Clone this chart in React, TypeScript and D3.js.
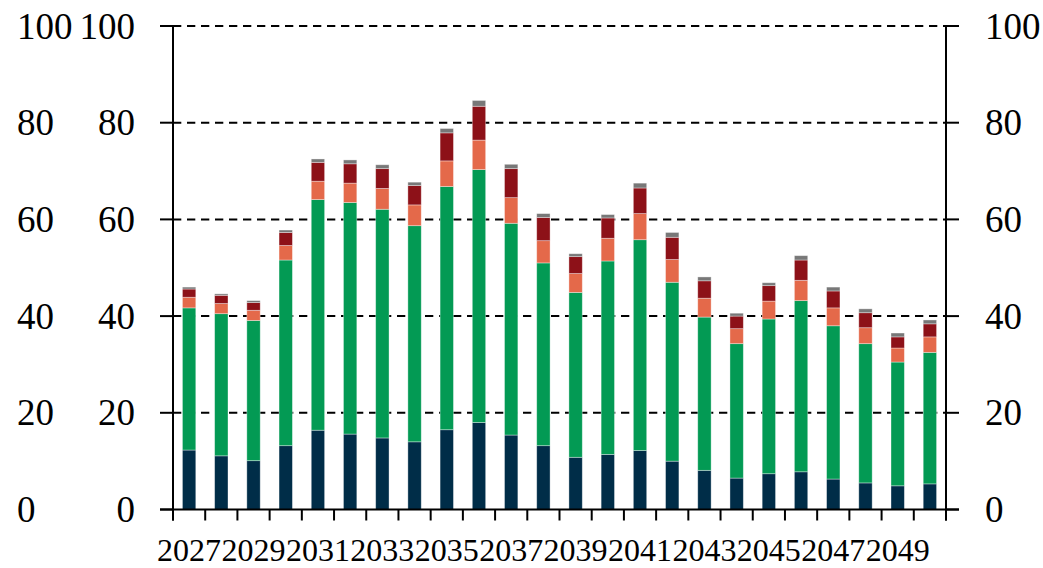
import React from "react";
import * as d3 from "d3";

const years = [2027, 2028, 2029, 2030, 2031, 2032, 2033, 2034, 2035, 2036, 2037, 2038, 2039, 2040, 2041, 2042, 2043, 2044, 2045, 2046, 2047, 2048, 2049, 2050];
const navy = [12.3, 11.1, 10.1, 13.2, 16.4, 15.6, 14.8, 14.0, 16.5, 18.0, 15.4, 13.2, 10.8, 11.4, 12.2, 10.0, 8.1, 6.5, 7.4, 7.8, 6.3, 5.5, 4.9, 5.3];
const green = [29.4, 29.4, 29.0, 38.4, 47.7, 47.9, 47.3, 44.7, 50.3, 52.3, 43.8, 37.8, 34.1, 40.0, 43.6, 37.0, 31.7, 27.8, 32.0, 35.4, 31.7, 28.8, 25.6, 27.2];
const orange = [2.2, 2.1, 2.1, 3.0, 3.8, 4.0, 4.3, 4.3, 5.3, 6.1, 5.3, 4.6, 3.9, 4.7, 5.4, 4.7, 3.9, 3.1, 3.7, 4.2, 3.7, 3.3, 2.9, 3.2];
const red = [1.7, 1.7, 1.6, 2.7, 3.9, 4.0, 4.1, 4.0, 5.8, 7.0, 6.0, 4.8, 3.5, 4.2, 5.3, 4.6, 3.6, 2.6, 3.2, 4.2, 3.5, 3.1, 2.3, 2.7];
const gray = [0.4, 0.3, 0.4, 0.5, 0.7, 0.8, 0.8, 0.7, 0.9, 1.2, 0.9, 0.8, 0.6, 0.7, 1.0, 1.0, 0.8, 0.6, 0.6, 0.9, 0.8, 0.8, 0.8, 0.8];
const yTicks = [0, 20, 40, 60, 80, 100];
const xLabelYears = [2027, 2029, 2031, 2033, 2035, 2037, 2039, 2041, 2043, 2045, 2047, 2049];

const seriesKeys = ["navy", "green", "orange", "red", "gray"];
const seriesColors = ["#002D48", "#039A54", "#E4694A", "#8D1118", "#787878"];

export default function App() {
  const W = 1043, H = 568;
  const left = 173, right = 946, top = 26, bottom = 509.5;
  const rows = years.map((yr, i) => ({
    year: yr, navy: navy[i], green: green[i], orange: orange[i], red: red[i], gray: gray[i],
  }));
  const stacked = d3.stack<any>().keys(seriesKeys)(rows);
  const x = d3.scaleBand<number>().domain(years).range([left, right]).paddingInner(0.585).paddingOuter(0.2925);
  const y = d3.scaleLinear().domain([0, 100]).range([bottom, top]);
  const step = x.step();
  const boundaries = d3.range(years.length + 1).map((i) => left + i * step);
  const yFont = 37;
  const xFont = 32;
  const font = "'Liberation Serif', 'Times New Roman', serif";

  return (
    <svg width={W} height={H} style={{ position: "absolute", left: 0, top: 0, display: "block", background: "#fff" }}>
      {/* gridlines */}
      {yTicks.filter((t) => t > 0).map((t) => (
        <line key={"g" + t} x1={left} x2={right} y1={y(t)} y2={y(t)} stroke="#000" strokeWidth={2} strokeDasharray="8.3,5.7" />
      ))}
      {/* bars */}
      {stacked.map((s, si) => (
        <g key={s.key} fill={seriesColors[si]}>
          {s.map((d, i) => (
            <rect
              key={i}
              x={x(years[i])}
              width={x.bandwidth()}
              y={y(d[1])}
              height={Math.max(0, y(d[0]) - y(d[1]))}
              stroke="#ffffff"
              strokeOpacity={0.45}
              strokeWidth={0.8}
            />
          ))}
        </g>
      ))}
      {/* axes */}
      <line x1={left - 13} x2={right + 13} y1={y(0)} y2={y(0)} stroke="#000" strokeWidth={2.2} />
      <line x1={left} x2={left} y1={top} y2={y(0) + 11} stroke="#000" strokeWidth={2} />
      <line x1={right} x2={right} y1={top} y2={y(0) + 11} stroke="#000" strokeWidth={2} />
      {yTicks.map((t) => (
        <g key={"t" + t}>
          <line x1={left - 13} x2={left} y1={y(t)} y2={y(t)} stroke="#000" strokeWidth={2} />
          <line x1={right} x2={right + 13} y1={y(t)} y2={y(t)} stroke="#000" strokeWidth={2} />
        </g>
      ))}
      {boundaries.map((bx, i) => (
        <line key={"xb" + i} x1={bx} x2={bx} y1={y(0)} y2={y(0) + 11} stroke="#000" strokeWidth={2} />
      ))}
      {/* y labels */}
      {yTicks.map((t) => (
        <g key={"l" + t} fontFamily={font} fontSize={yFont} fill="#000">
          <text x={17} y={y(t) + 12.5} textAnchor="start">{t}</text>
          <text x={135} y={y(t) + 12.5} textAnchor="end">{t}</text>
          <text x={985} y={y(t) + 12.5} textAnchor="start">{t}</text>
        </g>
      ))}
      {/* x labels */}
      {xLabelYears.map((yr) => (
        <text key={"x" + yr} x={(x(yr) as number) + x.bandwidth() / 2} y={561} textAnchor="middle" fontFamily={font} fontSize={xFont} fill="#000">
          {yr}
        </text>
      ))}
    </svg>
  );
}
